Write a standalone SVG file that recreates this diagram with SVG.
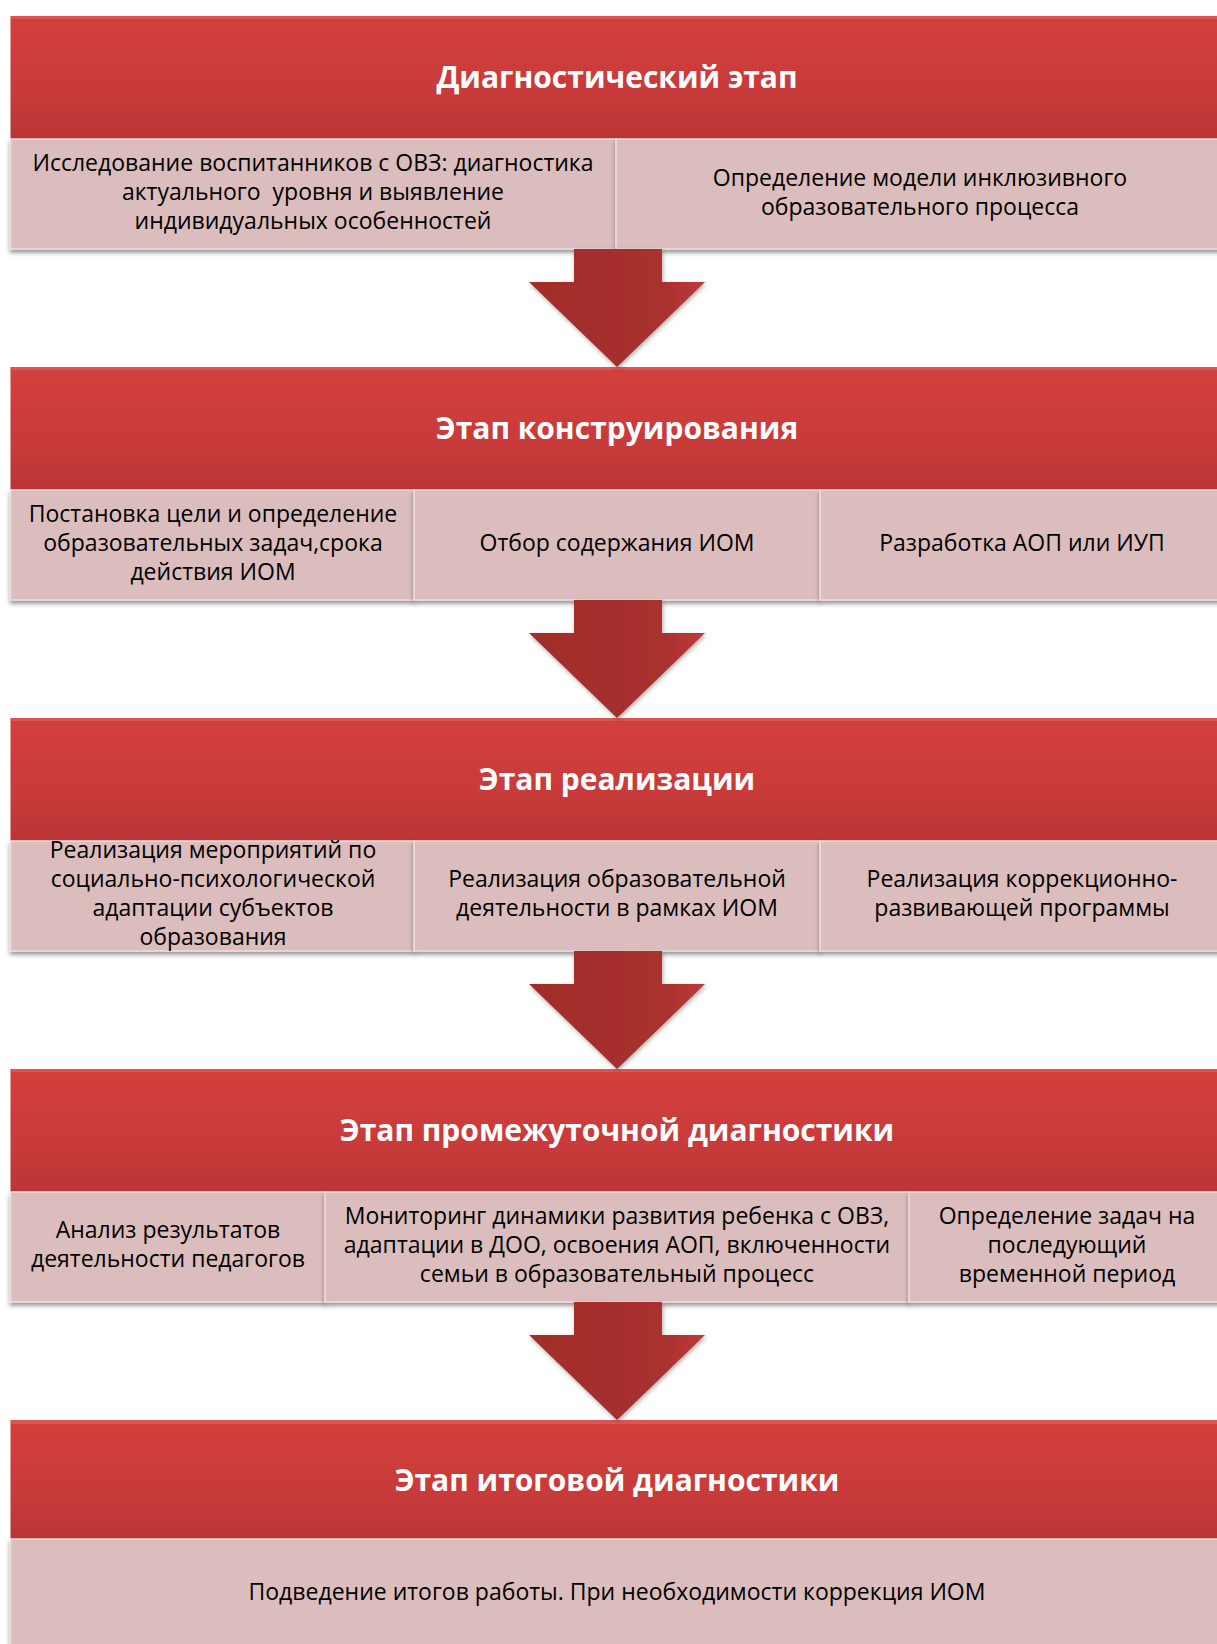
<svg xmlns="http://www.w3.org/2000/svg" width="1217" height="1644" viewBox="0 0 1217 1644">
<defs>
  <linearGradient id="redg" x1="0" y1="0" x2="0" y2="1">
    <stop offset="0" stop-color="#d33f3c"/>
    <stop offset="0.6" stop-color="#c83b3a"/>
    <stop offset="1" stop-color="#bb3535"/>
  </linearGradient>
  <linearGradient id="arrg" x1="0" y1="0" x2="1" y2="0">
    <stop offset="0" stop-color="#a12d2b"/>
    <stop offset="0.75" stop-color="#a8302e"/>
    <stop offset="1" stop-color="#bd3b39"/>
  </linearGradient>
  <filter id="sh" x="-5%" y="-10%" width="110%" height="130%">
    <feDropShadow dx="0" dy="3" stdDeviation="2" flood-color="#404040" flood-opacity="0.55"/>
  </filter>
  <filter id="ash" x="-20%" y="-10%" width="140%" height="130%">
    <feDropShadow dx="1" dy="2" stdDeviation="2" flood-color="#303030" flood-opacity="0.4"/>
  </filter>
</defs>
<style>
  .band { fill: url(#redg); }
  .hl { fill: #e06a68; opacity: 0.55; }
  .box { fill: #dbbdbd; stroke: #efdede; stroke-width: 1.5; filter: url(#sh); }
  .title { font-family: "Open Sans", "Noto Sans", sans-serif; font-weight: bold; font-size: 30px; fill: #ffffff; text-anchor: middle; }
  .txt { font-family: "Open Sans", "Noto Sans", sans-serif; font-size: 23px; fill: #000000; text-anchor: middle; }
  .arrow { fill: url(#arrg); filter: url(#ash); }
</style>
<rect width="1217" height="1644" fill="#ffffff"/>

<!-- Stage 1 -->
<g id="stage1">
  <rect class="band" x="10.5" y="16" width="1220" height="123"/>
  <rect class="hl" x="10.5" y="16" width="1220" height="3"/>
  <text class="title" x="617" y="88">Диагностический этап</text>
</g>
<g id="s1-box1">
  <rect class="box" x="10.5" y="139" width="605.5" height="110"/>
  <text class="txt" x="313" y="171">Исследование воспитанников с ОВЗ: диагностика</text>
  <text class="txt" x="313" y="200" xml:space="preserve" style="white-space:pre">актуального  уровня и выявление</text>
  <text class="txt" x="313" y="229">индивидуальных особенностей</text>
</g>
<g id="s1-box2">
  <rect class="box" x="616" y="139" width="614" height="110"/>
  <text class="txt" x="920" y="186">Определение модели инклюзивного</text>
  <text class="txt" x="920" y="215">образовательного процесса</text>
</g>

<!-- Stage 2 -->
<g id="stage2">
  <rect class="band" x="10.5" y="367" width="1220" height="123"/>
  <rect class="hl" x="10.5" y="367" width="1220" height="3"/>
  <text class="title" x="617" y="439">Этап конструирования</text>
</g>
<g id="s2-box1">
  <rect class="box" x="10.5" y="490" width="403.5" height="110"/>
  <text class="txt" x="213" y="522">Постановка цели и определение</text>
  <text class="txt" x="213" y="551">образовательных задач,срока</text>
  <text class="txt" x="213" y="580">действия ИОМ</text>
</g>
<g id="s2-box2">
  <rect class="box" x="414" y="490" width="406" height="110"/>
  <text class="txt" x="617" y="551">Отбор содержания ИОМ</text>
</g>
<g id="s2-box3">
  <rect class="box" x="820" y="490" width="410" height="110"/>
  <text class="txt" x="1022" y="551">Разработка АОП или ИУП</text>
</g>

<!-- Stage 3 -->
<g id="stage3">
  <rect class="band" x="10.5" y="718" width="1220" height="123"/>
  <rect class="hl" x="10.5" y="718" width="1220" height="3"/>
  <text class="title" x="617" y="790">Этап реализации</text>
</g>
<g id="s3-box1">
  <rect class="box" x="10.5" y="841" width="403.5" height="110"/>
  <text class="txt" x="213" y="858">Реализация мероприятий по</text>
  <text class="txt" x="213" y="887">социально-психологической</text>
  <text class="txt" x="213" y="916">адаптации субъектов</text>
  <text class="txt" x="213" y="945">образования</text>
</g>
<g id="s3-box2">
  <rect class="box" x="414" y="841" width="406" height="110"/>
  <text class="txt" x="617" y="887">Реализация образовательной</text>
  <text class="txt" x="617" y="916">деятельности в рамках ИОМ</text>
</g>
<g id="s3-box3">
  <rect class="box" x="820" y="841" width="410" height="110"/>
  <text class="txt" x="1022" y="887">Реализация коррекционно-</text>
  <text class="txt" x="1022" y="916">развивающей программы</text>
</g>

<!-- Stage 4 -->
<g id="stage4">
  <rect class="band" x="10.5" y="1069" width="1220" height="123"/>
  <rect class="hl" x="10.5" y="1069" width="1220" height="3"/>
  <text class="title" x="617" y="1141">Этап промежуточной диагностики</text>
</g>
<g id="s4-box1">
  <rect class="box" x="10.5" y="1192" width="314.5" height="110"/>
  <text class="txt" x="168" y="1238">Анализ результатов</text>
  <text class="txt" x="168" y="1267">деятельности педагогов</text>
</g>
<g id="s4-box2">
  <rect class="box" x="325" y="1192" width="584" height="110"/>
  <text class="txt" x="617" y="1224">Мониторинг динамики развития ребенка с ОВЗ,</text>
  <text class="txt" x="617" y="1253">адаптации в ДОО, освоения АОП, включенности</text>
  <text class="txt" x="617" y="1282">семьи в образовательный процесс</text>
</g>
<g id="s4-box3">
  <rect class="box" x="909" y="1192" width="321" height="110"/>
  <text class="txt" x="1067" y="1224">Определение задач на</text>
  <text class="txt" x="1067" y="1253">последующий</text>
  <text class="txt" x="1067" y="1282">временной период</text>
</g>

<!-- Stage 5 -->
<g id="stage5">
  <rect class="band" x="10.5" y="1420" width="1220" height="119"/>
  <rect class="hl" x="10.5" y="1420" width="1220" height="4"/>
  <text class="title" x="617" y="1491">Этап итоговой диагностики</text>
</g>
<g id="s5-box1">
  <rect class="box" x="10.5" y="1539" width="1220" height="120"/>
  <text class="txt" x="617" y="1600">Подведение итогов работы. При необходимости коррекция ИОМ</text>
</g>

<!-- Connectors -->
<g id="connectors">
  <path class="arrow" d="M574,249 L662,249 L662,282 L705,282 L617,367 L529,282 L574,282 Z"/>
  <path class="arrow" d="M574,600 L662,600 L662,633 L705,633 L617,718 L529,633 L574,633 Z"/>
  <path class="arrow" d="M574,951 L662,951 L662,984 L705,984 L617,1069 L529,984 L574,984 Z"/>
  <path class="arrow" d="M574,1302 L662,1302 L662,1335 L705,1335 L617,1420 L529,1335 L574,1335 Z"/>
</g>
</svg>
